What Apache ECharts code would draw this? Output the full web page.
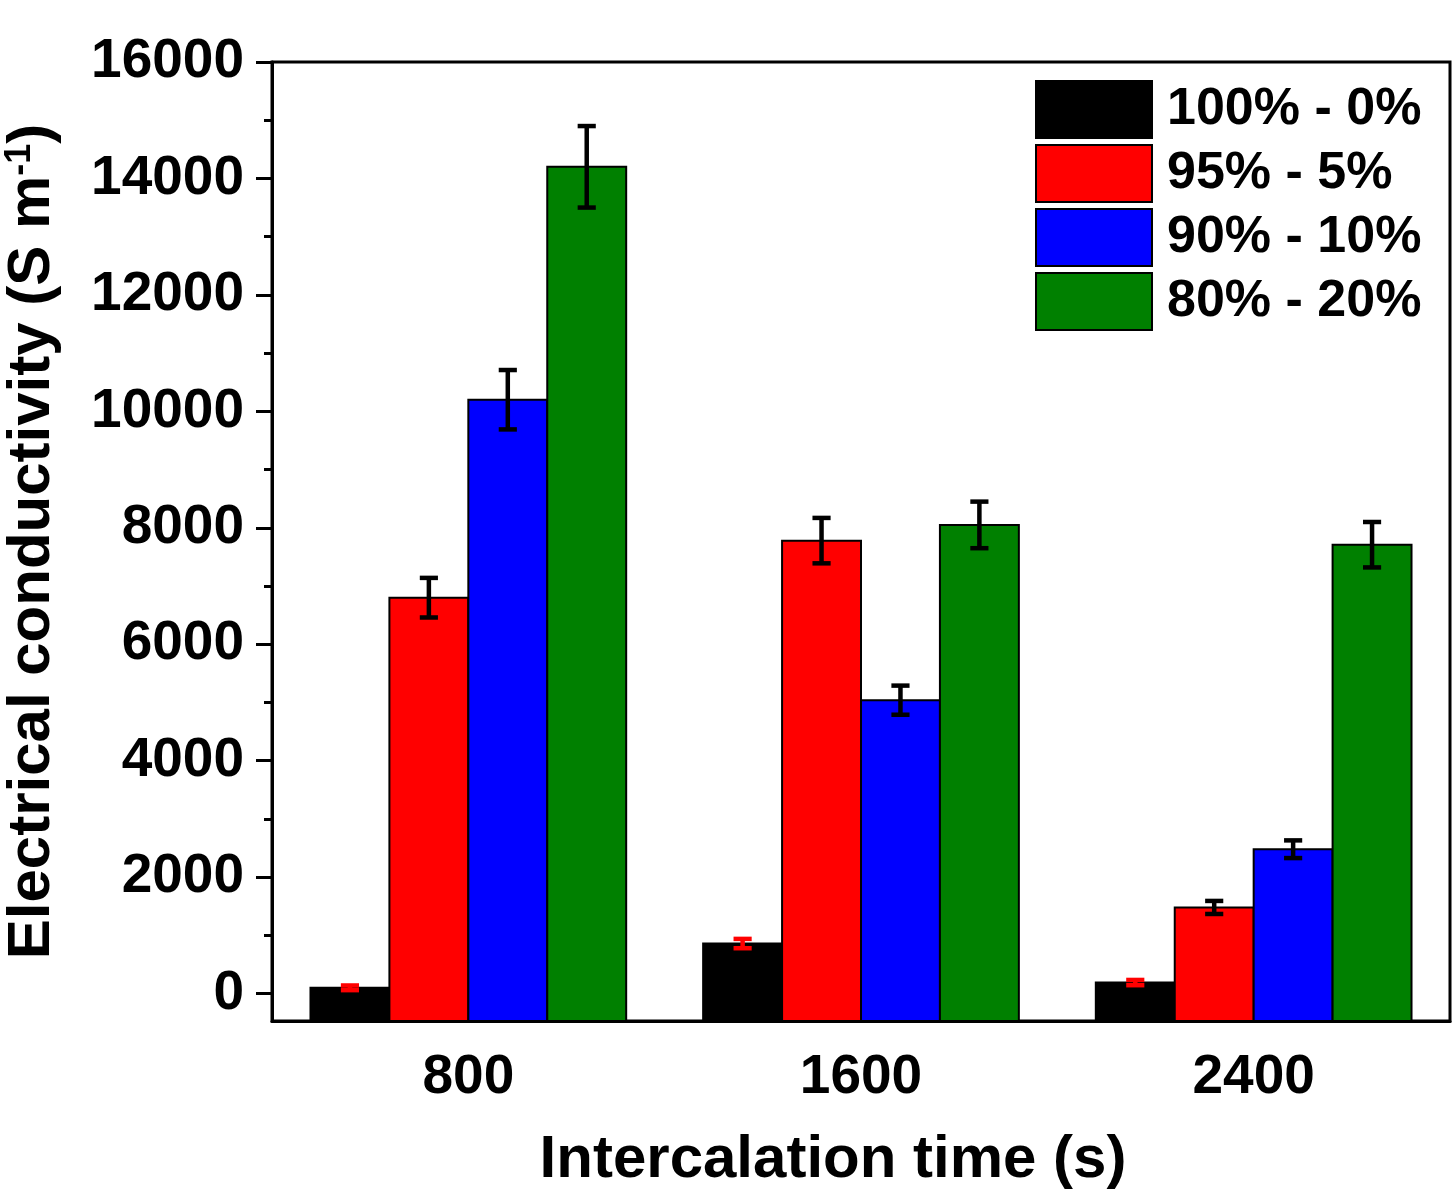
<!DOCTYPE html>
<html><head><meta charset="utf-8">
<script src="https://cdn.jsdelivr.net/npm/echarts@6/dist/echarts.min.js"></script>
<style>html,body{margin:0;padding:0;background:#fff}#c{width:1453px;height:1200px}</style>
</head><body><div id="c"></div>
<script>
// ---- data ----
const categories = ['800', '1600', '2400'];
const seriesNames = ['100% - 0%', '95% - 5%', '90% - 10%', '80% - 20%'];
const values0 = [100, 860, 190];
const values1 = [6800, 7780, 1480];
const values2 = [10200, 5040, 2480];
const values3 = [14200, 8050, 7710];
const errors0 = [40, 80, 45];
const errors1 = [340, 390, 112];
const errors2 = [510, 250, 152];
const errors3 = [700, 400, 390];
const yTickValues = [0, 2000, 4000, 6000, 8000, 10000, 12000, 14000, 16000];
const yMinorTickValues = [1000, 3000, 5000, 7000, 9000, 11000, 13000, 15000];
const yMin = -470, yMax = 16000;

// ---- styles ----
const FONT = '"Liberation Sans", Arial, Helvetica, sans-serif';
const colors = ['#000000', '#ff0000', '#0000ff', '#008000'];
const errColors = ['#ff0000', '#000000', '#000000', '#000000'];
const CAT_GAP = 0.196;

const values = [values0, values1, values2, values3];
const errors = [errors0, errors1, errors2, errors3];

function barGeom(api, k, ci) {
  const band = api.size([1, 0])[0];
  const bw = band * (1 - CAT_GAP) / 4;
  const cx = api.coord([ci, 0])[0] + (k - 1.5) * bw;
  return { bw, cx };
}

// bars drawn from the bottom of the value axis (as in the original plot)
const barSeries = values.map((vals, k) => ({
  type: 'custom',
  name: seriesNames[k],
  data: categories.map((c, i) => [i, vals[i]]),
  encode: { x: 0, y: 1 },
  itemStyle: { color: colors[k], borderColor: '#000', borderWidth: 2 },
  z: 2,
  renderItem(params, api) {
    const ci = api.value(0), v = api.value(1);
    const g = barGeom(api, k, ci);
    const yTop = api.coord([ci, v])[1];
    const yBase = api.coord([ci, yMin])[1];
    return {
      type: 'rect',
      shape: { x: g.cx - g.bw / 2, y: yTop, width: g.bw, height: yBase - yTop },
      style: { fill: colors[k], stroke: '#000', lineWidth: 2 }
    };
  }
}));

const errSeries = values.map((vals, k) => ({
  type: 'custom',
  name: seriesNames[k] + ' error',
  data: categories.map((c, i) => [i, vals[i], errors[k][i]]),
  encode: { x: 0, y: 1 },
  z: 10,
  renderItem(params, api) {
    const ci = api.value(0), v = api.value(1), e = api.value(2);
    const g = barGeom(api, k, ci);
    const x = g.cx;
    const top = api.coord([ci, v + e])[1];
    const bot = api.coord([ci, v - e])[1];
    const cw = g.bw * 0.23;
    const style = { stroke: errColors[k], lineWidth: 4.5 };
    return {
      type: 'group',
      children: [
        { type: 'line', shape: { x1: x, y1: top, x2: x, y2: bot }, style },
        { type: 'line', shape: { x1: x - cw / 2, y1: top, x2: x + cw / 2, y2: top }, style },
        { type: 'line', shape: { x1: x - cw / 2, y1: bot, x2: x + cw / 2, y2: bot }, style }
      ]
    };
  }
}));

const chart = echarts.init(document.getElementById('c'), null, { renderer: 'canvas' });
chart.setOption({
  animation: false,
  backgroundColor: '#fff',
  textStyle: { fontFamily: FONT, color: '#000' },
  grid: {
    left: 272, top: 62, right: 3, bottom: 179,
    show: true, borderColor: '#000', borderWidth: 3,
    containLabel: false, outerBoundsMode: 'none'
  },
  legend: {
    data: seriesNames.map((n, k) => ({ name: n, itemStyle: { color: colors[k], borderColor: '#000', borderWidth: 2 } })),
    orient: 'vertical',
    left: 1035, top: 80,
    padding: 0,
    itemWidth: 116, itemHeight: 57, itemGap: 5,
    icon: 'rect',
    selectedMode: false,
    textStyle: { fontFamily: FONT, fontSize: 52, fontWeight: 'bold', color: '#000', padding: [0, 0, 0, 10] }
  },
  xAxis: {
    type: 'category',
    data: categories,
    axisLine: { onZero: false, lineStyle: { color: '#000', width: 3 } },
    axisTick: { alignWithLabel: true, length: 16, lineStyle: { color: '#000', width: 3 } },
    axisLabel: { fontFamily: FONT, fontSize: 55, fontWeight: 'bold', color: '#000', margin: 29 },
    splitLine: { show: false },
    name: 'Intercalation time (s)',
    nameLocation: 'middle',
    nameGap: 109,
    nameTextStyle: { fontFamily: FONT, fontSize: 60, fontWeight: 'bold', color: '#000', padding: [0, 56, 0, 0] }
  },
  yAxis: [{
    type: 'value',
    position: 'left',
    min: yMin, max: yMax,
    axisLine: { show: true, lineStyle: { color: '#000', width: 3 } },
    axisTick: { show: true, customValues: yTickValues, length: 16, lineStyle: { color: '#000', width: 3 } },
    axisLabel: {
      customValues: yTickValues,
      formatter: v => String(v),
      fontFamily: FONT, fontSize: 55, fontWeight: 'bold', color: '#000', margin: 28
    },
    splitLine: { show: false },
    name: '{a|Electrical conductivity (S m}{sup|-1}{a|)}',
    nameLocation: 'middle',
    nameGap: 210,
    nameRotate: 90,
    nameTextStyle: {
      fontFamily: FONT, fontSize: 60, fontWeight: 'bold', color: '#000',
      rich: {
        a: { fontFamily: FONT, fontSize: 60, fontWeight: 'bold', color: '#000' },
        sup: { fontFamily: FONT, fontSize: 36, fontWeight: 'bold', color: '#000', verticalAlign: 'top' }
      }
    }
  }, {
    type: 'value',
    position: 'left',
    min: yMin, max: yMax,
    axisLine: { show: false },
    axisTick: { show: true, customValues: yMinorTickValues, length: 8, lineStyle: { color: '#000', width: 3 } },
    axisLabel: { show: true, customValues: yMinorTickValues, formatter: () => '' },
    splitLine: { show: false }
  }],
  series: [...barSeries, ...errSeries]
});
</script>
</body></html>
